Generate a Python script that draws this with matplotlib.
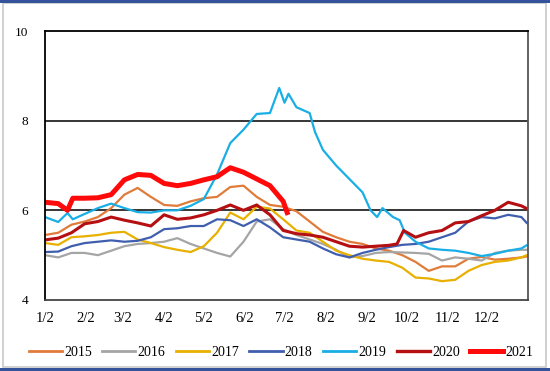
import numpy as np
import matplotlib.pyplot as plt
from matplotlib.patches import Rectangle
from matplotlib.lines import Line2D

# days since Jan 2, roughly one reading every 10 days
days = [0, 10, 20, 30, 40, 50, 60, 70, 80, 90, 100, 110, 120, 130, 140, 150, 160, 170, 180,
        190, 200, 210, 220, 230, 240, 250, 260, 270, 280, 290, 300, 310, 320, 330, 340, 350, 360, 364]

y2015 = [5.45, 5.5, 5.68, 5.75, 5.85, 6.05, 6.35, 6.5, 6.3, 6.12, 6.1, 6.2, 6.27, 6.3, 6.52, 6.55, 6.3, 6.12, 6.08,
         5.98, 5.75, 5.52, 5.4, 5.3, 5.25, 5.15, 5.1, 5.0, 4.85, 4.65, 4.75, 4.75, 4.92, 4.96, 4.9, 4.92, 4.95, 4.97]
y2016 = [5.0, 4.95, 5.05, 5.05, 5.0, 5.1, 5.2, 5.25, 5.27, 5.3, 5.38, 5.25, 5.15, 5.05, 4.97, 5.3, 5.75, 5.8, 5.58,
         5.45, 5.35, 5.25, 5.12, 4.95, 4.98, 5.05, 5.07, 5.06, 5.05, 5.03, 4.88, 4.95, 4.92, 4.88, 5.05, 5.1, 5.12, 5.12]
y2017 = [5.27, 5.23, 5.4, 5.42, 5.45, 5.5, 5.52, 5.35, 5.27, 5.18, 5.12, 5.07, 5.2, 5.5, 5.95, 5.8, 6.08, 6.04, 5.8,
         5.55, 5.5, 5.3, 5.1, 5.0, 4.92, 4.88, 4.85, 4.72, 4.5, 4.48, 4.42, 4.45, 4.65, 4.78, 4.85, 4.88, 4.95, 5.0]
y2018 = [5.07, 5.08, 5.2, 5.27, 5.3, 5.33, 5.3, 5.32, 5.4, 5.58, 5.6, 5.65, 5.65, 5.8, 5.78, 5.65, 5.8, 5.62, 5.4,
         5.35, 5.3, 5.15, 5.02, 4.95, 5.05, 5.12, 5.18, 5.23, 5.25, 5.3, 5.4, 5.5, 5.75, 5.85, 5.82, 5.9, 5.85, 5.72]

days2019 = [0, 10, 17, 21, 30, 40, 50, 60, 70, 80, 90, 100, 110, 120, 130, 140, 150, 160, 170, 177, 181, 184,
            190, 200, 204, 210, 220, 230, 240, 246, 251, 255, 263, 268, 272, 280, 290, 300, 310, 320, 330, 340,
            350, 360, 364]
y2019 = [5.85, 5.74, 5.94, 5.8, 5.92, 6.05, 6.15, 6.05, 5.96, 5.95, 6.0, 6.0, 6.1, 6.25, 6.8, 7.5, 7.8, 8.15, 8.17,
         8.73, 8.4, 8.6, 8.3, 8.17, 7.75, 7.35, 7.0, 6.7, 6.4, 6.0, 5.85, 6.05, 5.85, 5.78, 5.5, 5.3, 5.15, 5.12,
         5.1, 5.05, 4.98, 5.03, 5.1, 5.15, 5.22]

days2020 = [0, 10, 20, 30, 40, 50, 60, 70, 80, 90, 100, 110, 120, 130, 140, 150, 160, 170, 180,
            190, 200, 210, 220, 230, 240, 250, 260, 266, 271, 280, 290, 300, 310, 320, 330, 340, 350, 360, 364]
y2020 = [5.34, 5.38, 5.5, 5.7, 5.75, 5.85, 5.78, 5.72, 5.65, 5.9, 5.8, 5.83, 5.9, 6.0, 6.12, 6.0, 6.12, 5.9, 5.55,
         5.48, 5.45, 5.4, 5.3, 5.2, 5.18, 5.2, 5.22, 5.25, 5.55, 5.4, 5.5, 5.55, 5.72, 5.75, 5.88, 6.0, 6.18, 6.1, 6.04]

days2021 = [0, 10, 17, 21, 30, 40, 50, 60, 70, 80, 90, 100, 110, 120, 130, 140, 150, 160, 170, 180, 183]
y2021 = [6.18, 6.15, 6.0, 6.27, 6.27, 6.28, 6.35, 6.68, 6.8, 6.78, 6.6, 6.55, 6.6, 6.68, 6.75, 6.95, 6.85, 6.7,
         6.55, 6.2, 5.95]

tick_days = [0, 31, 59, 90, 120, 151, 181, 212, 243, 273, 304, 334]
tick_labels = ['1/2', '2/2', '3/2', '4/2', '5/2', '6/2', '7/2', '8/2', '9/2', '10/2', '11/2', '12/2']

series = [('2015', days, y2015, '#E07B39', 1.6),
          ('2016', days, y2016, '#A5A5A5', 1.6),
          ('2017', days, y2017, '#E8B000', 1.6),
          ('2018', days, y2018, '#3F5FAE', 1.6),
          ('2019', days2019, y2019, '#1AAEE6', 1.6),
          ('2020', days2020, y2020, '#B50F12', 2.2),
          ('2021', days2021, y2021, '#FF0A0A', 3.6)]

plt.rcParams['font.family'] = 'Liberation Serif'

fig = plt.figure(figsize=(5.5, 3.71), dpi=100)
ax = fig.add_axes([45/550, 1-300/371, 483/550, 269/371])

for name, x, y, c, lw in series:
    ax.plot(x, y, color=c, lw=lw, label=name, solid_joinstyle='round')

ax.set_xlim(0, 365)
ax.set_ylim(4, 10)
ax.set_yticks([4, 6, 8, 10])
ax.set_xticks(tick_days)
ax.set_xticklabels(tick_labels)
ax.tick_params(length=0)
ax.tick_params(axis='x', pad=9, labelsize=10.5)
ax.tick_params(axis='y', pad=12, labelsize=9.5)
for v in [6, 8]:
    ax.axhline(v, color='black', lw=1.1, zorder=0)
for s in ['left', 'bottom', 'top']:
    ax.spines[s].set_color('black')
    ax.spines[s].set_linewidth(1.3)
ax.spines['right'].set_color('#555555')
ax.spines['right'].set_linewidth(1.3)
ax.spines['bottom'].set_color('#444444')

handles = [Line2D([], [], color=c, lw=(3.6 if n == '2021' else 2.4 if n == '2020' else 2.0))
           for n, _, _, c, _ in series]
fig.legend(handles, [s[0] for s in series], ncol=7, loc='center',
           bbox_to_anchor=(281/550, 1-352/371), frameon=False, fontsize=10,
           handlelength=2.4, handletextpad=0.15, columnspacing=0.75)

# outer frame
fig.patches.append(Rectangle((3/550, 4/371), 543/550, 364/371, transform=fig.transFigure,
                             fill=False, edgecolor='#C8C8C8', lw=1.2))
fig.patches.append(Rectangle((0, 0), 1, 3/371, transform=fig.transFigure,
                             facecolor='#34539A', edgecolor='none'))
fig.patches.append(Rectangle((0, 1-3/371), 1, 3/371, transform=fig.transFigure,
                             facecolor='#34539A', edgecolor='none'))

plt.savefig('out.png', dpi=100)
